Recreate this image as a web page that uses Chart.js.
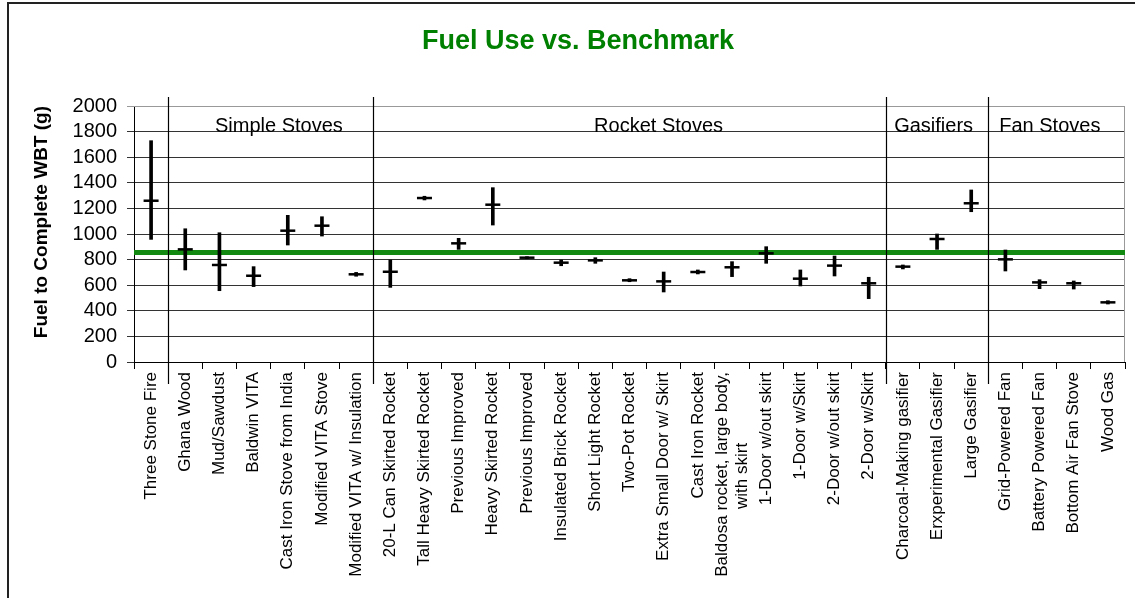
<!DOCTYPE html>
<html>
<head>
<meta charset="utf-8">
<title>Fuel Use vs. Benchmark</title>
<script src="https://cdn.jsdelivr.net/npm/chart.js@4"></script>
<style>
    html, body { margin: 0; padding: 0; background: #fff; }
    #wrap { position: relative; width: 1135px; height: 598px; overflow: hidden; }
</style>
</head>
<body>
<div id="wrap"><canvas id="fuelChart" width="1135" height="598"></canvas></div>
<script>
// stove names, one per category
const stoves = [
    'Three Stone Fire',
    'Ghana Wood', 'Mud/Sawdust', 'Baldwin VITA', 'Cast Iron Stove from India',
    'Modified VITA Stove', 'Modified VITA w/ Insulation',
    '20-L Can Skirted Rocket', 'Tall Heavy Skirted Rocket', 'Previous Improved',
    'Heavy Skirted Rocket', 'Previous Improved', 'Insulated Brick Rocket',
    'Short Light Rocket', 'Two-Pot Rocket', 'Extra Small Door w/ Skirt',
    'Cast Iron Rocket', ['Baldosa rocket, large body,', 'with skirt'],
    '1-Door w/out skirt', '1-Door w/Skirt', '2-Door w/out skirt', '2-Door w/Skirt',
    'Charcoal-Making gasifier', 'Erxperimental Gasifier', 'Large Gasifier',
    'Grid-Powered Fan', 'Battery Powered Fan', 'Bottom Air Fan Stove', 'Wood Gas'
];

// mean fuel use (g) and the ends of the error bars
const means = [1260, 880, 758, 674, 1026, 1065, 685, 705, 1281, 927, 1229, 815, 776, 794, 638,
               630, 703, 740, 849, 651, 753, 615, 745, 961, 1240, 802, 622, 615, 466];
const highs = [1729, 1041, 1010, 745, 1146, 1135, 700, 797, 1295, 966, 1362, 823, 797, 815, 651,
               703, 719, 784, 901, 719, 828, 662, 758, 1000, 1344, 875, 643, 633, 479];
const lows  = [958, 719, 557, 589, 914, 984, 670, 583, 1266, 880, 1070, 807, 752, 771, 627,
               547, 688, 667, 771, 594, 672, 495, 727, 880, 1174, 711, 573, 570, 453];

const benchmark = 855;
const yMax = 2000;
const yStep = 200;

// stove groups: first and last category index
const groups = [
    { name: 'Simple Stoves', from: 1, to: 6 },
    { name: 'Rocket Stoves', from: 7, to: 21 },
    { name: 'Gasifiers', from: 22, to: 24 },
    { name: 'Fan Stoves', from: 25, to: 28 }
];
// where each group name sits, in category units
const groupLabelAt = [3.74, 14.85, 22.9, 26.3];

const FONT = "'Liberation Sans', Arial, sans-serif";
Chart.defaults.font.family = FONT;
Chart.defaults.color = '#000';

// centre the lines of a two-line label the way the original does
const measureCtx = document.createElement('canvas').getContext('2d');
measureCtx.font = '17px ' + FONT;
function centreLines(label) {
    if (!Array.isArray(label)) return label;
    const widest = Math.max(...label.map(l => measureCtx.measureText(l).width));
    const space = measureCtx.measureText(' ').width;
    return label.map(l => {
        const pad = Math.round((widest - measureCtx.measureText(l).width) / 2 / space);
        return l + ' '.repeat(pad);
    });
}

const decor = {
    id: 'decor',
    beforeDraw(chart) {
        // keep multi-line tick labels centred on their category
        chart.scales.x.getLabelItems(chart.chartArea).forEach(item => {
            if (Array.isArray(item.label) && item.label.length > 1) {
                item.options.translation[0] -= item.font.lineHeight * (item.label.length - 1) / 2;
            }
        });
    },
    beforeDatasetsDraw(chart) {
        const { ctx, chartArea: a, scales: { y } } = chart;
        ctx.save();
        // light plot border on top and right
        ctx.strokeStyle = '#999';
        ctx.lineWidth = 1;
        ctx.beginPath();
        ctx.moveTo(a.left, a.top + 0.5);
        ctx.lineTo(a.right - 0.5, a.top + 0.5);
        ctx.lineTo(a.right - 0.5, a.bottom);
        ctx.stroke();
        // benchmark line
        const by = y.getPixelForValue(benchmark);
        ctx.strokeStyle = '#128a12';
        ctx.lineWidth = 5;
        ctx.beginPath();
        ctx.moveTo(a.left, by);
        ctx.lineTo(a.right, by);
        ctx.stroke();
        ctx.restore();
    },
    afterDraw(chart) {
        const { ctx, scales: { x } } = chart;
        const x0 = x.getPixelForValue(0);
        const step = x.getPixelForValue(1) - x0;
        const px = i => x0 + i * step;
        ctx.save();
        // group separators
        ctx.strokeStyle = '#000';
        ctx.lineWidth = 1.2;
        groups.forEach(g => {
            const sx = Math.round(px(g.from - 0.5)) + 0.5;
            ctx.beginPath();
            ctx.moveTo(sx, 97);
            ctx.lineTo(sx, 384);
            ctx.stroke();
        });
        // group names
        ctx.fillStyle = '#000';
        ctx.font = '20px ' + FONT;
        ctx.textAlign = 'center';
        ctx.textBaseline = 'alphabetic';
        groups.forEach((g, i) => ctx.fillText(g.name, px(groupLabelAt[i]), 132));
        // title
        ctx.fillStyle = '#008000';
        ctx.font = 'bold 27px ' + FONT;
        ctx.fillText('Fuel Use vs. Benchmark', 578, 49);
        // outer frame
        ctx.strokeStyle = '#222';
        ctx.lineWidth = 2;
        ctx.strokeRect(8, 3, 1300, 800);
        ctx.restore();
    }
};

const fuelCtx = document.getElementById('fuelChart');
const fuelChart = new Chart(fuelCtx, {
    data: {
        labels: stoves,
        datasets: [
            {
                type: 'bar',
                data: stoves.map((s, i) => [lows[i], highs[i]]),
                backgroundColor: '#000',
                barThickness: 3,
                order: 2
            },
            {
                type: 'line',
                data: means,
                showLine: false,
                pointStyle: 'line',
                pointRadius: 7.5,
                pointHoverRadius: 7.5,
                pointBorderColor: '#000',
                pointBorderWidth: 2.5,
                order: 1
            }
        ]
    },
    options: {
        responsive: false,
        animation: false,
        events: [],
        layout: { padding: { top: 106, right: 3, left: 0, bottom: 0 } },
        plugins: {
            legend: { display: false },
            tooltip: { enabled: false }
        },
        scales: {
            x: {
                type: 'category',
                offset: true,
                grid: { offset: true, drawOnChartArea: false, tickLength: 7, color: '#000' },
                border: { color: '#000' },
                ticks: {
                    autoSkip: false,
                    minRotation: 90,
                    maxRotation: 90,
                    padding: 3,
                    font: { size: 17 },
                    callback: function(value) { return centreLines(this.getLabelForValue(value)); }
                },
                afterFit: s => { s.height = 236; }
            },
            y: {
                type: 'linear',
                min: 0,
                max: yMax,
                ticks: {
                    stepSize: yStep,
                    autoSkip: false,
                    padding: 10,
                    font: { size: 20 },
                    callback: v => String(v)
                },
                grid: {
                    color: c => (c.tick && c.tick.value === yMax) ? '#999' : '#333',
                    tickLength: 7
                },
                border: { color: '#000' },
                title: {
                    display: true,
                    text: 'Fuel to Complete WBT (g)',
                    align: 'end',
                    padding: { top: 30 },
                    font: { size: 19, weight: 'bold' }
                },
                afterFit: s => { s.width = 134; }
            }
        }
    },
    plugins: [decor]
});
</script>
</body>
</html>
